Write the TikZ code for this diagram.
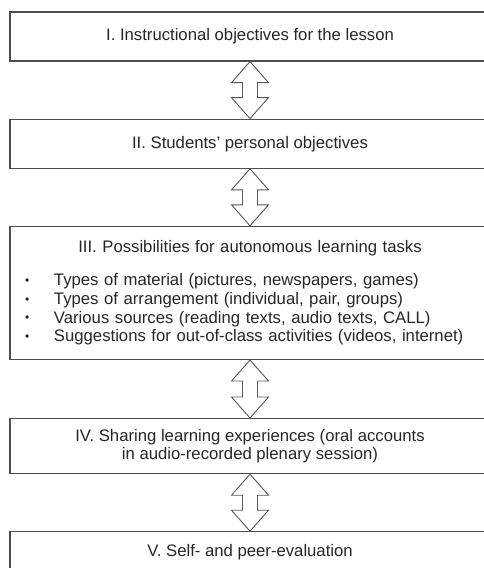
\documentclass[tikz,border=0pt]{standalone}
\usepackage{fontspec}
\setmainfont{Liberation Sans}
\usepackage{xcolor}
\usepackage{tikz}
\usetikzlibrary{calc}
\usetikzlibrary{positioning}
\definecolor{boxline}{HTML}{4D4D4D}
\definecolor{arrline}{HTML}{575757}
\definecolor{txt}{HTML}{262626}
\newcommand{\dotitem}{\hspace*{10pt}\makebox[29pt][l]{\raisebox{1.2pt}{\fontsize{12}{12}\selectfont\textbullet}}}

\begin{document}
\begin{tikzpicture}[x=1pt,y=1pt,node distance=57pt,semithick]
	\tikzstyle{stage}=[draw=boxline, line width=1.2pt, text=txt, minimum width=480pt, inner sep=5pt, font=\fontsize{16.7}{18.8}\selectfont, align=center]
	\tikzstyle{updown}=[draw=arrline, line width=0.9pt]
	\clip (0,0) rectangle (484,-568);
		\node[stage, minimum height=49pt] (A) at (250,-36.5) {I. Instructional objectives for the lesson};
		\node[stage, minimum height=49pt] (B) [below=of A] {II. Students' personal objectives};
		\node[stage, minimum height=133pt, text width=470pt, align=left] (C) [below=of B] {\makebox[470pt]{III. Possibilities for autonomous learning tasks}\\[14pt]
			\dotitem Types of material (pictures, newspapers, games)\\
			\dotitem Types of arrangement (individual, pair, groups)\\
			\dotitem Various sources (reading texts, audio texts, CALL)\\
			\dotitem Suggestions for out-of-class activities (videos, internet)};
		\node[stage, minimum height=55pt] (D) [below=58pt of C] {IV. Sharing learning experiences (oral accounts\\in audio-recorded plenary session)};
		\node[stage, minimum height=40pt] (E) [below=of D] {V. Self- and peer-evaluation};

		\foreach \a/\b in {A/B,B/C,C/D,D/E}
			\draw[updown] (\a.south) -- ++(18.5,-21) -- ++(-11,0) -- ($(\b.north)+(7.5,21)$) -- ++(11,0) -- (\b.north)
				-- ++(-18.5,21) -- ++(11,0) -- ($(\a.south)+(-7.5,-21)$) -- ++(-11,0) -- cycle;
\end{tikzpicture}
\end{document}
